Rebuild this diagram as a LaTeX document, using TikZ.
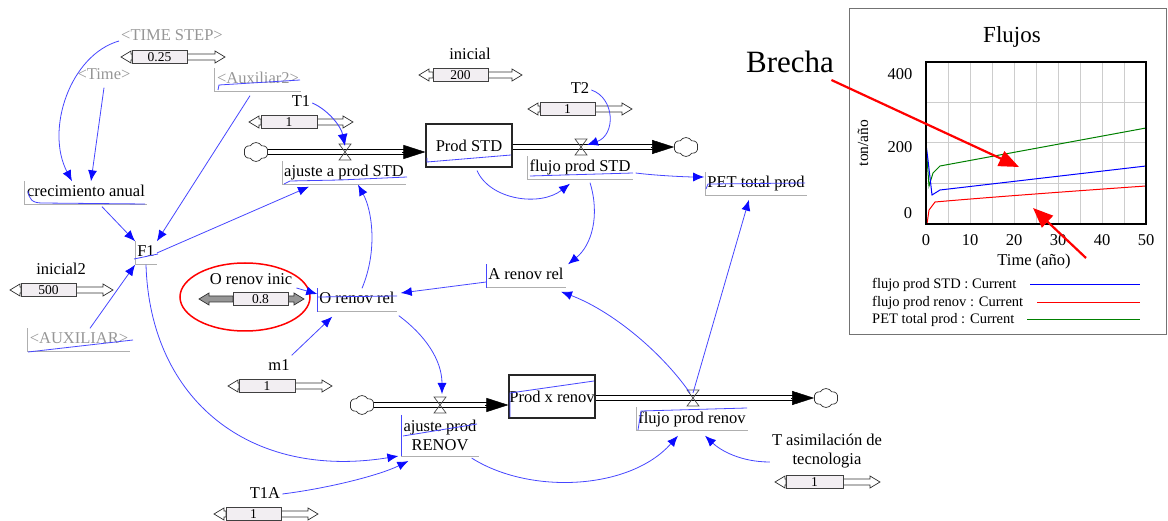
\documentclass[tikz,border=0pt]{standalone}
\usepackage{fontspec}
\setmainfont{Liberation Serif}
\usetikzlibrary{arrows.meta,shapes.symbols,calc}
\definecolor{lnk}{RGB}{70,70,255}
\definecolor{lnkhead}{RGB}{10,10,255}
\definecolor{shadowtxt}{RGB}{150,150,150}
\definecolor{auxgray}{RGB}{175,175,175}
\definecolor{sfill}{RGB}{242,238,242}
\definecolor{sgray}{RGB}{150,150,150}
\definecolor{gridc}{RGB}{205,205,205}
\definecolor{plgreen}{RGB}{0,128,0}
\definecolor{plblue}{RGB}{0,0,255}
\definecolor{plred}{RGB}{255,0,0}
\newcommand\lblf{\fontsize{16.5}{19}\selectfont}
\newcommand\valf{\fontsize{13.5}{14}\selectfont}
\newcommand\legf{\fontsize{14.5}{16}\selectfont}
\newcommand\tickf{\fontsize{16.5}{18}\selectfont}
\tikzset{
  var/.style={font=\lblf, inner xsep=2pt, inner ysep=4pt, text height=11.5pt, text depth=3.5pt},
  var2/.style={font=\lblf, inner xsep=2pt, inner ysep=5pt, align=center},
  shadowvar/.style={var, text=shadowtxt},
  auxl/.style={draw=auxgray, line width=1pt},
  scrib/.style={draw=lnk, line width=0.8pt},
  link/.style={draw=lnk, line width=0.8pt, -{Latex[length=11pt,width=9pt,color=lnkhead]}},
  boldlink/.style={draw=lnk, line width=0.9pt, -{Latex[length=12pt,width=10pt,color=lnkhead]}},
  pipe/.style={draw=black, double=white, double distance=3.2pt, line width=1pt},
  pipehead/.style={draw=black, line width=0.5pt, -{Triangle[length=22pt,width=14pt]}},
  stock/.style={draw=black!85, line width=1.1pt, minimum width=86pt, minimum height=43pt, font=\lblf, inner sep=0pt},
  valvest/.style={draw=black!70, line width=0.7pt},
  cloudst/.style={cloud, draw=black!80, cloud puffs=6, cloud puff arc=120, aspect=1.25, minimum width=24pt, minimum height=19pt, inner sep=0pt, line width=0.7pt},
  sbox/.style={draw=black!75, fill=sfill, line width=0.9pt, minimum height=13pt, inner sep=0pt, font=\valf},
  sarr/.style={draw=black!80, line width=0.7pt},
  redarrow/.style={draw=red, line width=2.2pt, -{Triangle[length=20pt,width=16pt]}},
}
% slider: name, left tip, box left, box right, right tip, y, value, arrow fill
\newcommand\vslider[8]{%
  \draw[sarr, fill=#8] (#2,#6) -- (#2+10,#6-6) -- (#2+10,#6-3) -- (#3,#6-3) -- (#3,#6+3) -- (#2+10,#6+3) -- (#2+10,#6+6) -- cycle;
  \draw[sarr, fill=#8] (#4,#6-3) -- (#5-10,#6-3) -- (#5-10,#6-6) -- (#5,#6) -- (#5-10,#6+6) -- (#5-10,#6+3) -- (#4,#6+3) -- cycle;
  \node[sbox, minimum width={#4-#3}] (#1) at ({(#3+#4)/2},#6) {#7};
}
\newcommand\vvalve[3]{%
  \coordinate (#1) at (#2,#3);
  \draw[valvest] ($(#1)+(-6,-8)$) -- ($(#1)+(6,-8)$) -- ($(#1)+(-6,8)$) -- ($(#1)+(6,8)$) -- cycle;
}
\newcommand\auxbox[1]{\draw[auxl] (#1.north west) -- (#1.south west) -- (#1.south east);}
\begin{document}
\begin{tikzpicture}[x=1pt,y=-1pt]
\useasboundingbox (0,0) rectangle (1168,521);

% ---------------- variables ----------------
\node[shadowvar] (timestep) at (172,37) {<TIME STEP>};
\vslider{sTS}{121}{132}{187}{225}{57}{0.25}{white}
\node[shadowvar] (time) at (104,76) {<Time>};
\node[shadowvar] (aux2) at (258,80) {<Auxiliar2>};
\auxbox{aux2}
\draw[scrib] (218,90) -- (219,85) -- (300,80);

\node[var] (crec) at (86,193) {crecimiento anual};
\auxbox{crec}
\draw[scrib] (28,191) .. controls (29,199) and (32,203) .. (42,203) -- (145,204);

\node[var] (F1) at (146,253) {F1};
\auxbox{F1}
\draw[scrib] (134,259) -- (158,254);

\node[var] (inicial2) at (61,271) {inicial2};
\vslider{s500}{10}{21}{76}{113}{290}{500}{white}

\node[shadowvar] (AUX) at (79,340) {<AUXILIAR>};
\auxbox{AUX}
\draw[scrib] (28,352) -- (133,340);

\node[var] (orinic) at (251,281) {O renov inic};
\vslider{sOR}{199}{233}{288}{304}{299}{0.8}{sgray}
\draw[red, line width=1.5pt] (245,297) ellipse [x radius=65pt, y radius=34pt];

\node[var] (orrel) at (357,300) {O renov rel};
\auxbox{orrel}
\draw[scrib] (orrel.north west) -- (orrel.south west);
\draw[scrib] (318,297) -- (397,296);

\node[var] (m1) at (279,367) {m1};
\vslider{sm1}{228}{239}{295}{332}{386}{1}{white}
\node[var] (T1A) at (265,494) {T1A};
\vslider{sT1A}{214}{226}{281}{318}{514}{1}{white}
\node[var] (T1) at (301,103) {T1};
\vslider{sT1}{249}{261}{317}{353}{122}{1}{white}
\node[var] (inicial) at (470,56) {inicial};
\vslider{s200}{419}{433}{488}{522}{75}{200}{white}
\node[var] (T2) at (580,90) {T2};
\vslider{sT2}{528}{540}{595}{632}{109}{1}{white}

% ---------------- stocks, clouds, pipes ----------------
\node[stock] (prodstd) at (469,145.5) {Prod STD};
\draw[scrib] (427,158) -- (427,162) -- (511,155);
\node[stock] (prodx) at (552,396.5) {Prod x renov};
\draw[scrib] (510,417) -- (510,393) -- (594,381);

\node[cloudst] (c1) at (256,152) {};
\node[cloudst] (c2) at (686,147) {};
\node[cloudst] (c3) at (362,405) {};
\node[cloudst] (c4) at (826,398) {};

\draw[pipe, shorten >=12pt] (c1.east) -- (c1.east -| prodstd.west);
\draw[pipehead] ($(c1.east -| prodstd.west)+(-23,0)$) -- (c1.east -| prodstd.west);
\draw[pipe, shorten >=12pt] (prodstd.east |- c2.west) -- (c2.west);
\draw[pipehead] ($(c2.west)+(-23,0)$) -- (c2.west);
\draw[pipe, shorten >=12pt] (c3.east) -- (c3.east -| prodx.west);
\draw[pipehead] ($(c3.east -| prodx.west)+(-23,0)$) -- (c3.east -| prodx.west);
\draw[pipe, shorten >=12pt] (prodx.east |- c4.west) -- (c4.west);
\draw[pipehead] ($(c4.west)+(-23,0)$) -- (c4.west);

\vvalve{v1}{345}{152}
\vvalve{v2}{581}{147}
\vvalve{v3}{440}{405}
\vvalve{v4}{693}{398}

% ---------------- flow / aux labels ----------------
\node[var] (ajstd) at (344,173) {ajuste a prod STD};
\auxbox{ajstd}
\draw[scrib] (284,184) -- (290,181) -- (340,180) -- (407,177);
\node[var] (flstd) at (580,168) {flujo prod STD};
\auxbox{flstd}
\draw[scrib] (530,176) -- (633,173);
\node[var] (pet) at (756,184) {PET total prod};
\auxbox{pet}
\draw[scrib] (706,189) -- (708,184) -- (805,183);
\node[var] (arenov) at (526,276) {A renov rel};
\auxbox{arenov}
\draw[scrib] (arenov.north west) -- (arenov.south west);
\node[var2] (ajrenov) at (440,435.5) {ajuste prod\\RENOV};
\auxbox{ajrenov}
\draw[scrib] (ajrenov.north west) -- (ajrenov.south west);
\draw[scrib] (403,436) -- (477,424);
\node[var] (flren) at (692,419) {flujo prod renov};
\auxbox{flren}
\draw[scrib] (638,430) -- (641,411) -- (747,408);
\node[var2] (tasim) at (827,451) {T asimilación de\\tecnologia};
\vslider{sTA}{775}{786}{843}{880}{482}{1}{white}

% ---------------- links ----------------
\draw[link] ($(timestep.west)+(0,4)$) .. controls (70,55) and (45,130) .. ($(crec.north)+(-14,0)$);
\draw[link] (time.south) -- ($(crec.north)+(5,0)$);
\draw[link] ($(aux2.south)+(-8,4)$) -- (F1.north east);
\draw[link] ($(crec.south)+(16,2)$) -- (F1.north west);
\draw[link] ($(AUX.north)+(11,0)$) -- (F1.south west);
\draw[link] (F1.east) -- ($(ajstd.south)+(-35,2)$);
\draw[boldlink] (T1.east) .. controls (328,110) and (341,126) .. ($(v1)+(0,-6)$);
\draw[link] ($(orrel.north)+(5,0)$) .. controls (378,250) and (372,210) .. ($(ajstd.south)+(14,0)$);
\draw[link] ($(prodstd.south)+(8,3)$) .. controls (490,200) and (540,207) .. ($(flstd.south)+(-10,4)$);
\draw[link] (T2.east) .. controls (615,98) and (616,135) .. ($(v2)+(6,-2)$);
\draw[link] ($(flstd.east)+(3,5)$) .. controls (660,176) and (690,177) .. ($(pet.west)+(-1,-7)$);
\draw[link] ($(flstd.south)+(10,3)$) .. controls (600,215) and (592,245) .. ($(arenov.north)+(42,0)$);
\draw[link] ($(arenov.west)+(0,6)$) -- ($(orrel.east)+(4,-7)$);
\draw[link] ($(orinic.east)+(2,7)$) -- ($(orrel.west)+(0,-6)$);
\draw[link] (m1.north east) -- ($(orrel.south west)+(15,5)$);
\draw[link] ($(orrel.south east)+(2,4)$) .. controls (425,335) and (442,360) .. ($(v3)+(2,-11)$);
\draw[link] (F1.south) .. controls (150,400) and (250,480) .. ($(ajrenov.south west)+(-3,0)$);
\draw[link] (T1A.east) .. controls (330,488) and (380,475) .. ($(ajrenov.south west)+(7,5)$);
\draw[link] ($(ajrenov.south east)+(-7,2)$) .. controls (530,495) and (630,490) .. ($(flren.south)+(-14,5)$);
\draw[link] ($(tasim.west)+(0,11)$) .. controls (740,462) and (720,450) .. ($(flren.south)+(13,5)$);
\draw[link] ($(v4)+(-3,-5)$) .. controls (660,350) and (610,310) .. ($(arenov.south)+(35,4)$);
\draw[link] ($(v4)+(0,-5)$) -- ($(pet.south)+(-7,4)$);

% ---------------- graph ----------------
\draw[draw=black!55, line width=1pt] (849,9) rectangle (1166,335);
\node[font=\fontsize{23}{25}\selectfont] (title) at (1012,37) {Flujos};
\foreach \k in {1,...,9} \draw[gridc, line width=1pt] (926+22*\k,62) -- (926+22*\k,224);
\foreach \yy in {102.5,143,183.5} \draw[gridc, line width=1pt] (926,\yy) -- (1146,\yy);
\draw[plgreen, line width=1pt] (926,144) -- (929,186) -- (933,173) -- (940,166) -- (1146,128);
\draw[plblue, line width=1pt] (926,144) -- (928,160) -- (932,195) -- (940,190) -- (1146,166);
\draw[plred, line width=1pt] (927,224) -- (929,210) -- (935,202) .. controls (980,198) and (1060,192) .. (1146,186);
\draw[black, line width=2pt] (926,62) rectangle (1146,224);
\node[font=\tickf] at (900,74) {400};
\node[font=\tickf] at (900,147) {200};
\node[font=\tickf] at (908,213) {0};
\foreach \t/\lab in {0/0,10/10,20/20,30/30,40/40,50/50} \node[font=\tickf] at (926+4.4*\t,240) {\lab};
\node[font=\tickf] (xlab) at (1034,262) {Time (año)};
\node[font=\fontsize{15.5}{17}\selectfont, rotate=90] (ylab) at (863,143) {ton/año};
\node[font=\legf, anchor=west, inner sep=0pt] (lg1) at (872,285) {flujo prod STD : Current};
\node[font=\legf, anchor=west, inner sep=0pt] (lg2) at (872,303) {flujo prod renov : Current};
\node[font=\legf, anchor=west, inner sep=0pt] (lg3) at (872,320) {PET total prod : Current};
\draw[plblue, line width=1pt] (1030,285) -- (1140,285);
\draw[plred, line width=1pt] (1037,303) -- (1140,303);
\draw[plgreen, line width=1pt] (1027,320) -- (1140,320);

% ---------------- annotations ----------------
\node[font=\fontsize{31}{33}\selectfont] (brecha) at (790,62) {Brecha};
\coordinate (gapA) at (1019,167);
\coordinate (gapB) at (1033,208);
\coordinate (gapBstart) at (1086,258);
\draw[redarrow] ($(brecha.east)+(-6,18)$) -- (gapA);
\draw[redarrow] (gapBstart) -- (gapB);
\end{tikzpicture}
\end{document}
